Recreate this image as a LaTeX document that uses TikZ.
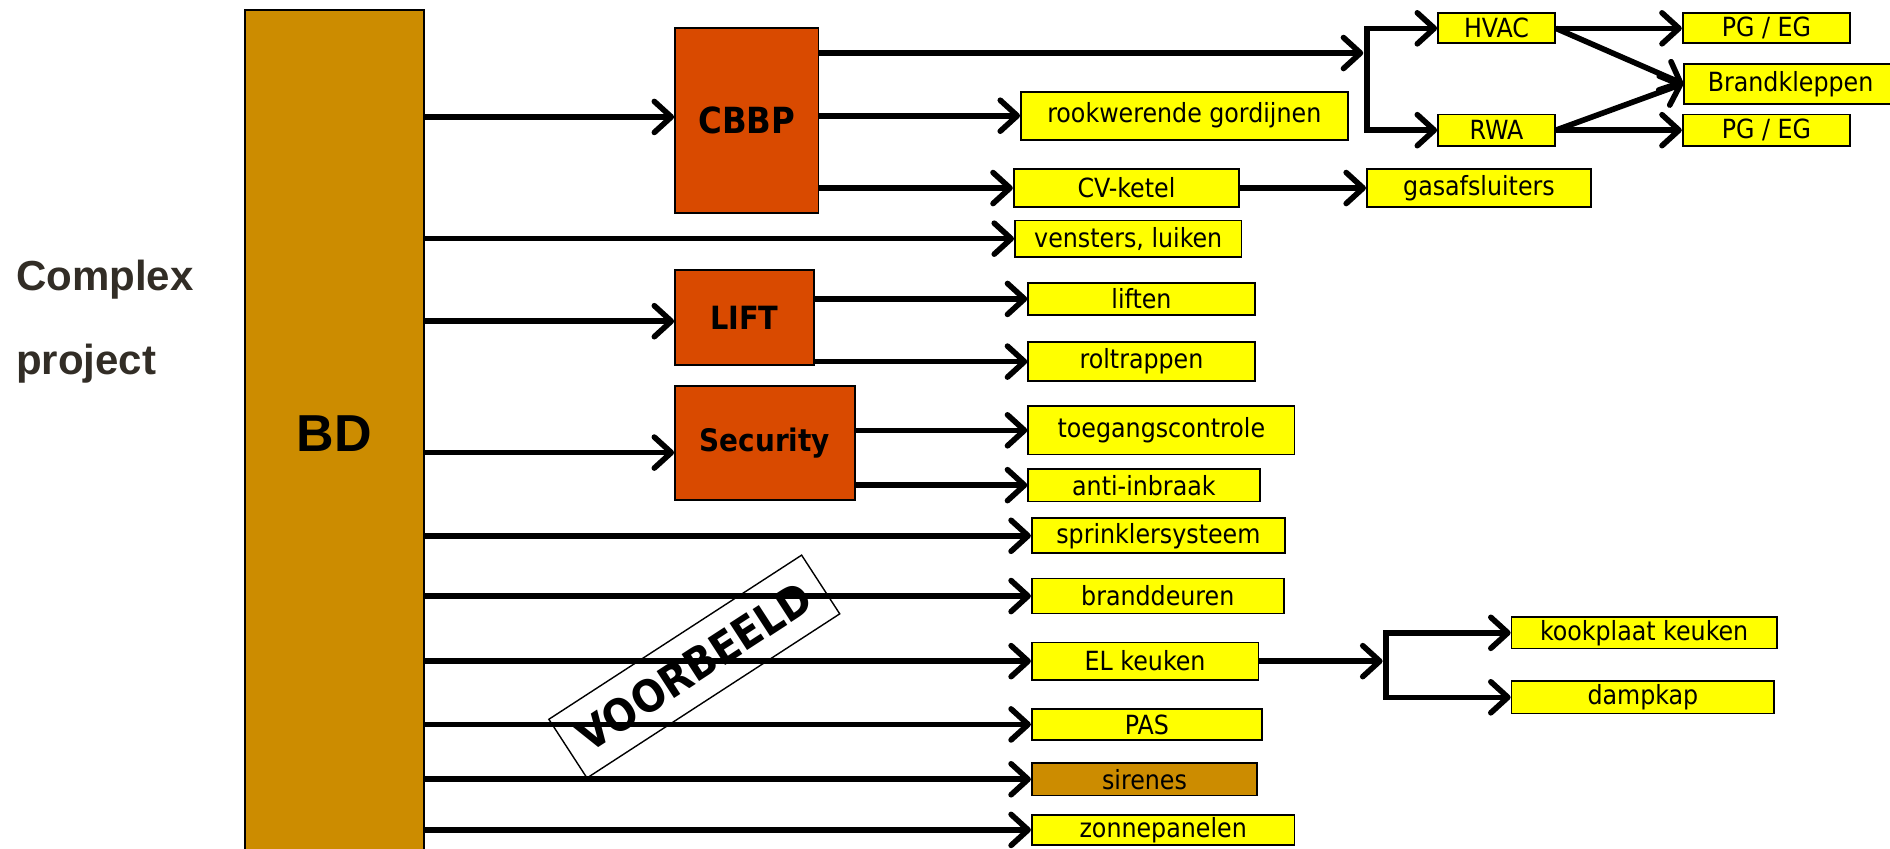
\documentclass[tikz,border=0pt]{standalone}
\usepackage{fontspec}
\setmainfont{DejaVu Sans Condensed}
\newfontfamily\arialfont{Liberation Sans}
\usetikzlibrary{arrows.meta}
\definecolor{bdgold}{RGB}{204,140,0}
\definecolor{burnt}{RGB}{217,74,0}
\definecolor{ylw}{RGB}{255,255,0}
\definecolor{darktxt}{RGB}{50,45,38}
% #1 options, #2 name, #3 x1, #4 y1, #5 x2, #6 y2, #7 text
\newcommand\mkbox[7][]{%
  \pgfmathsetmacro\myBW{(#5-#3)*0.6027}%
  \pgfmathsetmacro\myBH{(#6-#4)*0.6027}%
  \node[ybox,#1,minimum width=\myBW pt,minimum height=\myBH pt] (#2) at ({(#3+#5)/2},{(#4+#6)/2}) {#7};}
\begin{document}
\begin{tikzpicture}[x=0.6027pt,y=-0.6027pt,
  ybox/.style={draw=black,line width=0.9pt,fill=ylw,inner sep=0pt,font=\fontsize{13.2}{15}\selectfont},
  obox/.style={fill=burnt,font=\bfseries\fontsize{16}{18}\selectfont},
  arr/.style={line width=2.8pt,-{Straight Barb[round,length=8.5pt,width=15.5pt]}},
  ln/.style={line width=2.8pt}]
\useasboundingbox (0,0) rectangle (1568,704.3);
\clip (0,0) rectangle (1568,704.3);

% left title
\node[anchor=west,text=darktxt,inner sep=0pt,font=\arialfont\bfseries\fontsize{21}{24}\selectfont] (cx) at (13,232) {Complex};
\node[anchor=west,text=darktxt,inner sep=0pt,font=\arialfont\bfseries\fontsize{21}{24}\selectfont] (pj) at (13,302) {project};

% BD column
\mkbox[fill=bdgold,line width=1pt,font=\arialfont\bfseries\fontsize{26}{30}\selectfont]{bd}{203}{8}{352}{712}{BD}

% orange blocks
\mkbox[obox,font=\bfseries\fontsize{18}{20}\selectfont]{cbbp}{560}{23}{679}{177}{CBBP}
\mkbox[obox]{lift}{560}{224}{675}{303}{LIFT}
\mkbox[obox,font=\bfseries\fontsize{15.5}{18}\selectfont]{sec}{560}{320}{709}{415}{Security}

% yellow boxes
\mkbox{rook}{847}{76}{1118}{116}{rookwerende gordijnen}
\mkbox{cv}{841}{140}{1028}{172}{CV-ketel}
\mkbox{gas}{1134}{140}{1320}{172}{gasafsluiters}
\mkbox{vens}{842}{183}{1030}{213}{vensters, luiken}
\mkbox{hvac}{1193}{11}{1290}{36}{HVAC}
\mkbox{rwa}{1193}{95}{1290}{121}{RWA}
\mkbox{pga}{1396}{11}{1535}{36}{PG / EG}
\mkbox{brand}{1397}{53}{1574}{86}{Brandkleppen}
\mkbox{pgb}{1396}{95}{1535}{121}{PG / EG}
\mkbox{liften}{853}{235}{1041}{261}{liften}
\mkbox{rolt}{853}{284}{1041}{316}{roltrappen}
\mkbox{toeg}{853}{337}{1074}{377}{toegangscontrole}
\mkbox{anti}{853}{389}{1045}{416}{anti-inbraak}
\mkbox{sprk}{856}{430}{1066}{459}{sprinklersysteem}
\mkbox{brd}{856}{480}{1065}{509}{branddeuren}
\mkbox{elk}{856}{533}{1044}{564}{EL keuken}
\mkbox{pas}{856}{588}{1047}{614}{PAS}
\mkbox[fill=bdgold]{sir}{856}{633}{1043}{660}{sirenes}
\mkbox{zon}{856}{676}{1074}{701}{zonnepanelen}
\mkbox{kook}{1254}{512}{1474}{538}{kookplaat keuken}
\mkbox{damp}{1254}{565}{1472}{592}{dampkap}

% connectors from BD
\path ([yshift=1.8pt]cbbp.west) coordinate (cbin);
\path ([yshift=-1.8pt]lift.west) coordinate (liftin);
\path ([yshift=-4.8pt]sec.west) coordinate (secin);
\draw[arr] (cbin -| bd.east) -- (cbin);
\draw[arr] (vens.west -| bd.east) -- (vens.west);
\draw[arr] (liftin -| bd.east) -- (liftin);
\draw[arr] (secin -| bd.east) -- (secin);
\draw[arr] (sprk.west -| bd.east) -- (sprk.west);
\draw[arr] (brd.west -| bd.east) -- (brd.west);
\draw[arr] (elk.west -| bd.east) -- (elk.west);
\draw[arr] (pas.west -| bd.east) -- (pas.west);
\draw[arr] (sir.west -| bd.east) -- (sir.west);
\draw[arr] (zon.west -| bd.east) -- (zon.west);

% CBBP branch
\coordinate (j1) at (1131,44);
\coordinate (j1b) at (1134,44);
\draw[arr] (j1 -| cbbp.east) -- (j1);
\draw[arr] (rwa.west -| j1b) -- (hvac.west -| j1b) -- (hvac.west);
\draw[arr] (hvac.west -| j1b) -- (rwa.west -| j1b) -- (rwa.west);
\draw[arr] (rook.west -| cbbp.east) -- (rook.west);
\draw[arr] (cv.west -| cbbp.east) -- (cv.west);
\draw[arr] (cv.east) -- (gas.west);
\draw[arr] (hvac.east) -- (pga.west);
\draw[arr] (hvac.east) -- (brand.west);
\draw[arr] (rwa.east) -- (brand.west);
\draw[arr] (rwa.east) -- (pgb.west);

% LIFT and Security branches
\draw[arr] (liften.west -| lift.east) -- (liften.west);
\draw[arr] (rolt.west -| lift.east) -- (rolt.west);
\draw[arr] (toeg.west -| sec.east) -- (toeg.west);
\draw[arr] (anti.west -| sec.east) -- (anti.west);

% EL keuken branch
\coordinate (j2) at (1147,548.5);
\coordinate (j2b) at (1150,548.5);
\draw[arr] (elk.east) -- (j2);
\draw[arr] (damp.west -| j2b) -- (kook.west -| j2b) -- (kook.west);
\draw[arr] (kook.west -| j2b) -- (damp.west -| j2b) -- (damp.west);

% stamp
\node[draw=black,line width=0.7pt,rotate=33,minimum width=150.7pt,minimum height=35pt,inner sep=0pt,font=\bfseries\fontsize{22}{24}\selectfont] (vb) at (576,553) {VOORBEELD};
\end{tikzpicture}
\end{document}
